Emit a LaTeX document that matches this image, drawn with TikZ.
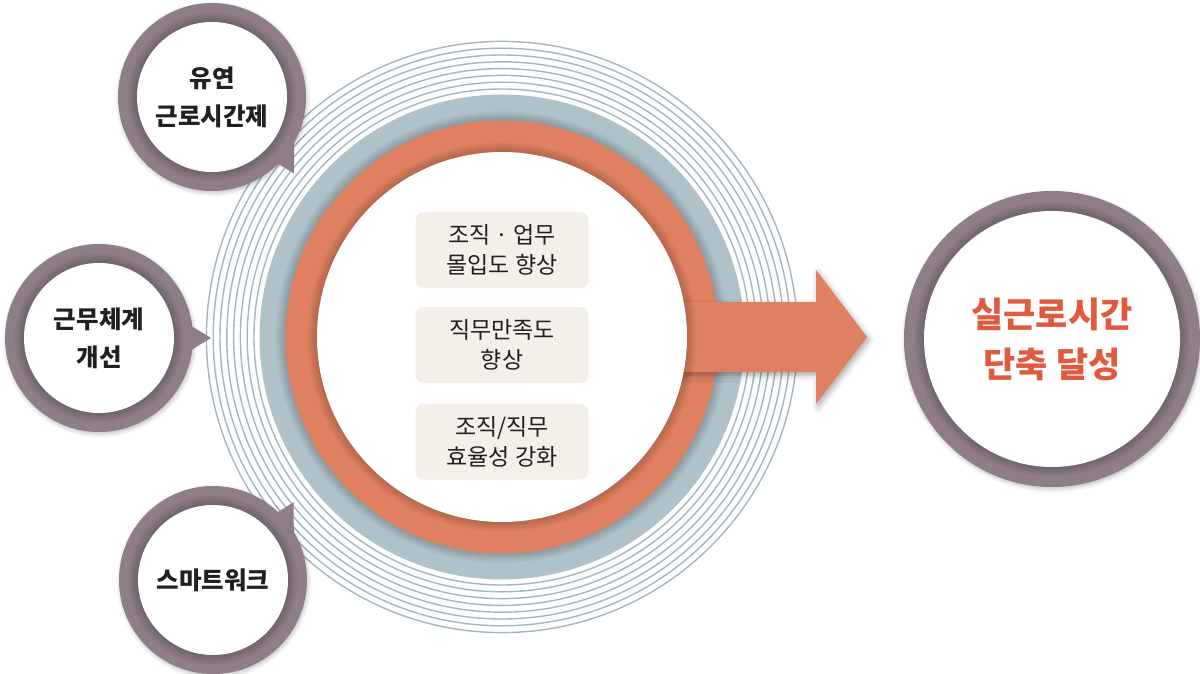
\documentclass[tikz,border=0pt]{standalone}
\usepackage{fontspec}
\setmainfont{Noto Sans CJK KR}
\usetikzlibrary{calc,shadows.blur}

\definecolor{coral}{HTML}{E08062}
\definecolor{slate}{HTML}{B0C2C9}
\definecolor{lineblue}{HTML}{A2B6BF}
\definecolor{mauve}{HTML}{8F7D87}
\definecolor{beige}{HTML}{F3F0E9}
\definecolor{inkdark}{HTML}{231F20}
\definecolor{goalred}{HTML}{E05B3E}

% soft inner shadow around a disk of radius #2
\newcommand{\softedge}[2]{%
  \foreach \k in {1,...,8}
    \fill[black,opacity=0.025] (#1) circle[radius=#2+\k*1.2pt];
}

% speech bubble: name, centre, base angle 1, base angle 2, tip angle
\newcommand{\talkbubble}[5]{%
  \coordinate (#1) at (#2);
  \fill[mauve,blur shadow={shadow xshift=1pt,shadow yshift=-2pt,shadow blur radius=4pt,shadow opacity=25}]
    (#1) circle[radius=94pt];
  \fill[mauve] ($(#1)+(#3:90pt)$) -- ($(#1)+(#5:112pt)$) -- ($(#1)+(#4:90pt)$) -- cycle;
  \softedge{#1}{75pt}
  \fill[white] (#1) circle[radius=75pt];
}

\begin{document}
\begin{tikzpicture}[x=1pt,y=-1pt,
    thinring/.style={draw=lineblue,line width=1.4pt},
    goalbox/.style={fill=beige,rounded corners=8pt,minimum width=173pt,minimum height=76pt,
      align=center,text=inkdark,font=\fontsize{23}{30}\selectfont},
    bubbletext/.style={align=center,text=inkdark,font=\bfseries\fontsize{24.5}{38}\selectfont},
    goaltext/.style={align=center,text=goalred,font=\bfseries\fontsize{35}{50}\selectfont}
]
\useasboundingbox (0,0) rectangle (1200,674);

\coordinate (hub) at (502,337);

% thin rings
\foreach \k in {0,...,7}
  \draw[thinring] (hub) circle[radius=248pt+\k*6.8pt];

% grey and coral rings
\fill[slate] (hub) circle[radius=242.5pt];
\softedge{hub}{216.5pt}
\fill[coral] (hub) circle[radius=216.5pt];

% arrow
\fill[coral,blur shadow={shadow xshift=2pt,shadow yshift=-3pt,shadow blur radius=6pt,shadow opacity=35}]
  (680,302) -- (816,302) -- (816,270) -- (867,337) -- (816,404) -- (816,372) -- (680,372) -- cycle;

\softedge{hub}{185pt}
\fill[white] (hub) circle[radius=185pt];

% goals inside the ring
\node[goalbox] (engage) at (502,250) {조직 · 업무\\몰입도 향상};
\node[goalbox] (satisfy) at (502,345) {직무만족도\\향상};
\node[goalbox] (effic) at (502,441.5) {조직/직무\\효율성 강화};

% bubbles on the left
\talkbubble{flexc}{212,97}{-24}{-46}{-43}
\node[bubbletext] (flex) at (flexc) {유연\\근로시간제};

\talkbubble{workc}{99,338}{9}{-9}{0}
\node[bubbletext] (work) at (workc) {근무체계\\개선};

\talkbubble{smartc}{213,580}{26}{47}{44}
\node[bubbletext] (smart) at (smartc) {스마트워크};

% result
\coordinate (goalc) at (1052,339);
\fill[mauve,blur shadow={shadow xshift=1pt,shadow yshift=-2pt,shadow blur radius=4pt,shadow opacity=25}]
  (goalc) circle[radius=148pt];
\softedge{goalc}{128pt}
\fill[white] (goalc) circle[radius=128pt];
\node[goaltext] (goal) at (goalc) {실근로시간\\단축 달성};
\end{tikzpicture}
\end{document}
